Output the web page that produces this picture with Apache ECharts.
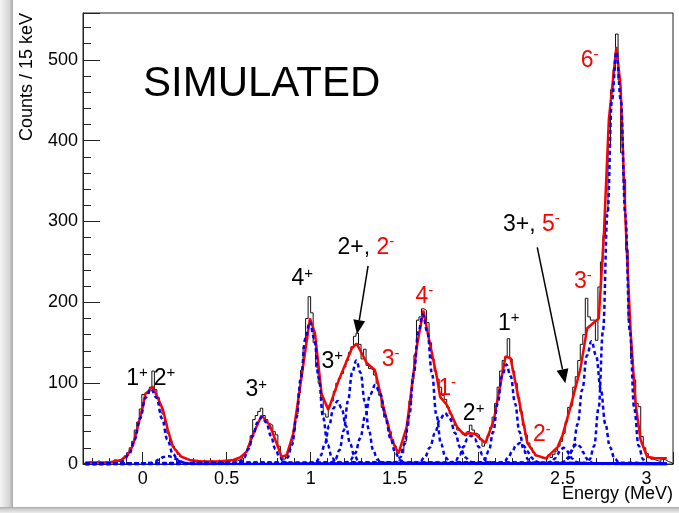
<!DOCTYPE html>
<html><head><meta charset="utf-8">
<script src="https://cdn.jsdelivr.net/npm/echarts@6/dist/echarts.min.js"></script>
<style>html,body{margin:0;padding:0;background:#fff}#c{width:679px;height:513px}</style>
</head><body><div id="c"></div>
<script>
// ---------- DATA ----------
const histStart = -0.35;      // MeV, left edge of first bin
const histBinWidth = 0.015;   // 15 keV bins
const histCounts = [
  1,2,3,1,2,4,2,1,3,2,
  2,1,5,3,4,7,10,14,20,28,
  42,52,68,86,88,87,95,115,92,82,
  72,62,50,38,28,22,17,12,9,7,
  6,4,5,3,2,4,3,5,2,3,
  4,2,3,5,1,3,4,2,5,4,
  4,5,7,10,15,22,35,55,60,65,
  69,60,55,50,48,40,36,22,10,6,
  10,16,28,42,62,88,116,145,180,207,
  187,150,120,100,80,62,58,72,78,90,
  100,106,112,120,128,138,145,158,162,148,
  130,142,122,118,116,110,100,85,70,58,
  50,40,30,22,16,18,14,28,48,78,
  105,135,178,182,192,190,175,150,130,115,
  105,95,85,80,70,62,55,48,42,40,
  38,35,40,48,42,38,36,30,22,28,
  35,45,58,75,95,115,128,132,155,130,
  115,100,82,65,48,36,26,20,14,10,
  9,7,8,6,11,8,12,16,22,28,
  38,52,70,72,95,108,128,148,160,205,
  182,178,178,153,219,250,283,312,393,463,
  488,532,475,385,352,265,178,130,104,75,
  71,34,20,13,9,6,5,4,3,6,
  5,3,2,0
];

// total fit (red)
const fitTotal = [
  [-0.34,2],[-0.2,2],[-0.127,5],[-0.09,11],[-0.058,23],[-0.03,45],[0.0,70],[0.016,87],[0.035,90],
  [0.058,96],[0.09,82],[0.121,67],[0.15,42],[0.181,21],[0.231,9],[0.28,5],[0.35,3],[0.45,3],
  [0.54,5],[0.58,8],[0.618,15],[0.66,38],[0.708,60],[0.757,48],[0.797,26],[0.827,9],[0.857,11],
  [0.897,38],[0.946,108],[0.996,180],[1.026,162],[1.065,87],[1.105,67],[1.17,105],[1.245,143],
  [1.274,149],[1.334,125],[1.383,116],[1.433,71],[1.483,30],[1.523,13],[1.572,46],[1.632,145],
  [1.671,190],[1.701,158],[1.751,108],[1.771,83],[1.811,73],[1.871,46],[1.91,37],[1.95,38],
  [1.98,37],[2.04,26],[2.09,54],[2.16,133],[2.19,131],[2.24,79],[2.29,26],[2.34,11],[2.40,7],
  [2.47,21],[2.50,36],[2.546,70],[2.606,118],[2.646,168],[2.715,180],[2.745,281],[2.775,426],
  [2.82,516],[2.845,467],[2.874,302],[2.904,166],[2.934,75],[2.964,30],[3.003,9],[3.05,7],[3.12,7]
];

// individual fit components (blue dashed)
const fitRange = [-0.34, 3.12];
const peak1p = [[-0.145,1.0],[-0.1125,4.1],[-0.08,12.6],[-0.0475,30.2],[-0.015,56.4],[0.0175,82.1],[0.05,93],[0.0825,82.1],[0.115,56.4],[0.1475,30.2],[0.18,12.6],[0.2125,4.1],[0.245,1.0]];
const peak2pLow = [[0.0,0.1],[0.05,1.4],[0.075,3.2],[0.1,6.1],[0.125,8.8],[0.15,10],[0.175,8.8],[0.2,6.1],[0.225,3.2],[0.25,1.4],[0.3,0.1]];
const peak3pA = [[0.551,0.6],[0.5775,2.5],[0.604,7.8],[0.6305,18.8],[0.657,35.2],[0.6835,51.2],[0.71,58],[0.7365,51.2],[0.763,35.2],[0.7895,18.8],[0.816,7.8],[0.8425,2.5],[0.869,0.6]];
const peak4p = [[0.836,2.0],[0.8625,7.7],[0.889,23.8],[0.9155,57.1],[0.942,106.7],[0.9685,155.3],[0.995,176],[1.0215,155.3],[1.048,106.7],[1.0745,57.1],[1.101,23.8],[1.1275,7.7],[1.154,2.0]];
const peak3pB = [[1.01,0.9],[1.035,3.4],[1.06,10.6],[1.085,25.3],[1.11,47.3],[1.135,68.8],[1.16,78],[1.185,68.8],[1.21,47.3],[1.235,25.3],[1.26,10.6],[1.285,3.4],[1.31,0.9]];
const peak2p2m = [[1.122,1.4],[1.147,5.6],[1.172,17.3],[1.197,41.6],[1.222,77.6],[1.247,113],[1.272,128],[1.297,113],[1.322,77.6],[1.347,41.6],[1.372,17.3],[1.397,5.6],[1.422,1.4]];
const peak3mA = [[1.205,1.1],[1.235,4.3],[1.265,13.3],[1.295,31.8],[1.325,59.4],[1.355,86.5],[1.385,98],[1.415,86.5],[1.445,59.4],[1.475,31.8],[1.505,13.3],[1.535,4.3],[1.565,1.1]];
const peak4m = [[1.506,2.1],[1.533,8.1],[1.56,25.0],[1.587,60.1],[1.614,112.2],[1.641,163.3],[1.668,185],[1.695,163.3],[1.722,112.2],[1.749,60.1],[1.776,25.0],[1.803,8.1],[1.83,2.1]];
const peak1m = [[1.62,0.7],[1.65,2.8],[1.68,8.5],[1.71,20.5],[1.74,38.2],[1.77,55.6],[1.80,63],[1.83,55.6],[1.86,38.2],[1.89,20.5],[1.92,8.5],[1.95,2.8],[1.98,0.7]];
const peak2pB = [[1.82,0.4],[1.865,4.7],[1.8875,11.4],[1.91,21.2],[1.9325,30.9],[1.955,35],[1.9775,30.9],[2.0,21.2],[2.0225,11.4],[2.045,4.7],[2.09,0.4]];
const peak1pB = [[2.009,1.4],[2.035,5.4],[2.061,16.6],[2.087,39.9],[2.113,74.6],[2.139,108.5],[2.165,123],[2.191,108.5],[2.217,74.6],[2.243,39.9],[2.269,16.6],[2.295,5.4],[2.321,1.4]];
const peakSmall = [[2.11,0.3],[2.155,3.5],[2.1775,8.4],[2.2,15.8],[2.2225,22.9],[2.245,26],[2.2675,22.9],[2.29,15.8],[2.3125,8.4],[2.335,3.5],[2.38,0.3]];
const peak2m = [[2.40,0.2],[2.435,2.7],[2.4525,6.5],[2.47,12.1],[2.4875,17.6],[2.505,20],[2.5225,17.6],[2.54,12.1],[2.5575,6.5],[2.575,2.7],[2.61,0.2]];
const peak3p5m = [[2.48,0.3],[2.515,3.4],[2.5325,8.1],[2.55,15.2],[2.5675,22.1],[2.585,25],[2.6025,22.1],[2.62,15.2],[2.6375,8.1],[2.655,3.4],[2.69,0.3]];
const peak3mB = [[2.507,1.7],[2.5345,6.7],[2.562,20.6],[2.5895,49.4],[2.617,92.2],[2.6445,134.1],[2.672,152],[2.6995,134.1],[2.727,92.2],[2.7545,49.4],[2.782,20.6],[2.8095,6.7],[2.837,1.7]];
const peak6m = [[2.6345,1.1],[2.661,5.7],[2.6875,22.4],[2.714,69.0],[2.7405,165.6],[2.767,309.3],[2.7935,450.1],[2.82,510],[2.8465,450.1],[2.873,309.3],[2.8995,165.6],[2.926,69.0],[2.9525,22.4],[2.979,5.7],[3.0055,1.1]];
const components = [peak1p, peak2pLow, peak3pA, peak4p, peak3pB, peak2p2m, peak3mA, peak4m,
  peak1m, peak2pB, peak1pB, peakSmall, peak2m, peak3p5m, peak3mB, peak6m];

// peak labels: anchor (energy, counts) = left edge / vertical middle of the text
const peakLabels = [
  {E:-0.098, N:106, text:'{k|1}{ks|+}'},
  {E:0.066, N:106, text:'{k|2}{ks|+}'},
  {E:0.612, N:91.5, text:'{k|3}{ks|+}'},
  {E:0.886, N:229, text:'{k|4}{ks|+}'},
  {E:1.065, N:127, text:'{k|3}{ks|+}'},
  {E:1.160, N:267.7, text:'{k|2+, }{r|2}{rs|-}'},
  {E:1.423, N:129, text:'{r|3}{rs|-}'},
  {E:1.624, N:207, text:'{r|4}{rs|-}'},
  {E:1.760, N:93, text:'{r|1}{rs|-}'},
  {E:1.906, N:62, text:'{k|2}{ks|+}'},
  {E:2.115, N:174, text:'{k|1}{ks|+}'},
  {E:2.324, N:36, text:'{r|2}{rs|-}'},
  {E:2.145, N:296, text:'{k|3+, }{r|5}{rs|-}'},
  {E:2.568, N:226, text:'{r|3}{rs|-}'},
  {E:2.608, N:499.5, text:'{r|6}{rs|-}'}
];
const arrows = [
  {from:[1.342,245], to:[1.276,160.7]},
  {from:[2.349,268], to:[2.516,100]}
];

// ---------- CHART ----------
const FAM = '"Liberation Sans", Arial, Helvetica, sans-serif';
const chart = echarts.init(document.getElementById('c'), null, {renderer:'canvas', width:679, height:513});

const histData = histCounts.map((c,i)=>[+(histStart + i*histBinWidth).toFixed(4), c]);
histData.push([+(histStart + histCounts.length*histBinWidth).toFixed(4), histCounts[histCounts.length-1]]);

const series = [
  {type:'line', name:'hist', data:histData, step:'end', showSymbol:false, z:2,
   lineStyle:{color:'#111', width:1}, silent:true},
  {type:'line', name:'fit', data:fitTotal, showSymbol:false, z:3,
   lineStyle:{color:'#ff0000', width:2.5}, silent:true}
];
components.forEach((c,i)=>{
  series.push({type:'line', name:'comp'+i, data:[[fitRange[0],0]].concat(c,[[fitRange[1],0]]),
    showSymbol:false, smooth:0.4, smoothMonotone:'x', z:4, silent:true,
    lineStyle:{color:'#0000ff', width:2.5, type:[4,3]}});
});

const axisColor = '#222';
chart.setOption({
  animation:false,
  backgroundColor:'#ffffff',
  grid:{left:83, right:6, top:13, bottom:49, show:true, borderColor:axisColor, borderWidth:1, backgroundColor:'#fff'},
  xAxis:{type:'value', min:-0.355, max:3.157, splitNumber:7,
    axisLine:{onZero:false, lineStyle:{color:axisColor, width:1}},
    axisTick:{inside:true, length:12, lineStyle:{color:axisColor}},
    minorTick:{show:true, splitNumber:5, length:6, lineStyle:{color:axisColor}},
    splitLine:{show:false}, minorSplitLine:{show:false},
    axisLabel:{showMinLabel:false, showMaxLabel:false, fontSize:18, color:'#000', fontFamily:FAM, margin:6}},
  yAxis:{type:'value', min:0, max:558, interval:100,
    axisLine:{show:true, onZero:false, lineStyle:{color:axisColor, width:1}},
    axisTick:{inside:true, length:17, lineStyle:{color:axisColor}},
    minorTick:{show:true, splitNumber:5, length:8, lineStyle:{color:axisColor}},
    splitLine:{show:false},
    axisLabel:{showMaxLabel:false, fontSize:18, color:'#000', fontFamily:FAM, margin:5}},
  series: series
});

// ---------- ANNOTATIONS ----------
const big = '23px ' + FAM, small = '15px ' + FAM;
const rich = {
  k:{fill:'#000', font:big, fontSize:23, fontFamily:FAM, lineHeight:26},
  ks:{fill:'#000', font:small, fontSize:15, fontFamily:FAM, lineHeight:15, verticalAlign:'top'},
  r:{fill:'#ff0000', font:big, fontSize:23, fontFamily:FAM, lineHeight:26},
  rs:{fill:'#ff0000', font:small, fontSize:15, fontFamily:FAM, lineHeight:15, verticalAlign:'top'}
};
const graphics = [];
// window shadow (left and bottom)
graphics.push({type:'rect', shape:{x:0, y:0, width:13, height:513}, z:0,
  style:{fill:new echarts.graphic.LinearGradient(0,0,1,0,[{offset:0,color:'#f4f4f4'},{offset:0.7,color:'#d6d6d6'},{offset:1,color:'#a9a9a9'}])}});
graphics.push({type:'rect', shape:{x:0, y:507, width:679, height:6}, z:0,
  style:{fill:new echarts.graphic.LinearGradient(0,0,0,1,[{offset:0,color:'#a9a9a9'},{offset:0.4,color:'#cfcfcf'},{offset:1,color:'#ececec'}])}});

graphics.push({type:'text', x:143, y:84, z:10,
  style:{text:'SIMULATED', font:'42px ' + FAM, fill:'#000', align:'left', verticalAlign:'middle'}});
graphics.push({type:'text', x:27, y:13, rotation:Math.PI/2, z:10,
  style:{text:'Counts / 15 keV', font:'18px ' + FAM, fill:'#000', align:'right', verticalAlign:'middle'}});
graphics.push({type:'text', x:673, y:494, z:10,
  style:{text:'Energy (MeV)', font:'18px ' + FAM, fill:'#000', align:'right', verticalAlign:'middle'}});

peakLabels.forEach(l=>{
  const p = chart.convertToPixel({gridIndex:0}, [l.E, l.N]);
  graphics.push({type:'text', x:p[0], y:p[1], z:10,
    style:{text:l.text, rich:rich, font:big, align:'left', verticalAlign:'middle'}});
});
arrows.forEach(a=>{
  const s = chart.convertToPixel({gridIndex:0}, a.from);
  const t = chart.convertToPixel({gridIndex:0}, a.to);
  const dx = t[0]-s[0], dy = t[1]-s[1], len = Math.hypot(dx,dy);
  const ux = dx/len, uy = dy/len, L = 14, W = 6;
  const bx = t[0]-ux*L, by = t[1]-uy*L;
  graphics.push({type:'line', z:10, shape:{x1:s[0], y1:s[1], x2:bx, y2:by}, style:{stroke:'#000', lineWidth:1.5}});
  graphics.push({type:'polygon', z:10, shape:{points:[[t[0],t[1]],[bx-uy*W, by+ux*W],[bx+uy*W, by-ux*W]]}, style:{fill:'#000'}});
});
chart.setOption({graphic:graphics});
</script></body></html>
